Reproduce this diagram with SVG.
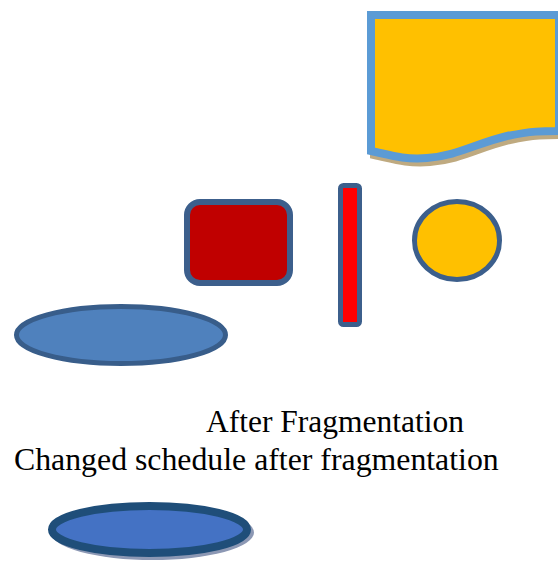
<svg xmlns="http://www.w3.org/2000/svg" width="558" height="563" viewBox="0 0 558 563">
  <style>
    .dark { stroke: #3C5F8C; }
    .label { font-family: "Liberation Serif", "Times New Roman", serif; fill: #000000; }
  </style>
  <rect width="558" height="563" fill="#FFFFFF"/>

  <!-- document shape with wavy bottom -->
  <g id="document">
    <path d="M374,19 H562 V135 C545,135 535,135 510,140 C480,147 460,160 430,162 C405,164 390,158 374,155 Z" fill="#BFAA80" stroke="#BFAA80" stroke-width="8"/>
    <path d="M371,15 H559 V131 C542,131 532,131 507,136 C477,143 457,156 427,158 C402,160 387,154 371,151 Z" fill="#FFC000" stroke="#5B9BD5" stroke-width="8"/>
  </g>

  <!-- rounded rectangle -->
  <g id="rounded-box">
    <rect x="187" y="202" width="103" height="81" rx="13" fill="#C00000" class="dark" stroke-width="6"/>
  </g>

  <!-- narrow bar -->
  <g id="bar">
    <rect x="340.5" y="185.5" width="19" height="139" rx="3" fill="#FF0000" class="dark" stroke-width="5"/>
  </g>

  <!-- circle -->
  <g id="circle">
    <ellipse cx="457" cy="240.5" rx="42.5" ry="39" fill="#FFC000" class="dark" stroke-width="5"/>
  </g>

  <!-- upper ellipse -->
  <g id="ellipse-upper">
    <ellipse cx="121" cy="335" rx="104.5" ry="28.5" fill="#4F81BD" stroke="#385D8A" stroke-width="5"/>
  </g>

  <!-- labels -->
  <g id="labels">
    <text class="label" x="206" y="432" font-size="31.5">After Fragmentation</text>
    <text class="label" x="14" y="470" font-size="31.8">Changed schedule after fragmentation</text>
  </g>

  <!-- lower ellipse with shadow -->
  <g id="ellipse-lower">
    <ellipse cx="152.5" cy="532.5" rx="101.5" ry="27.5" fill="#8C98B4"/>
    <ellipse cx="149.5" cy="529.5" rx="97.5" ry="23.5" fill="#4472C4" stroke="#1F4E79" stroke-width="8"/>
  </g>
</svg>
